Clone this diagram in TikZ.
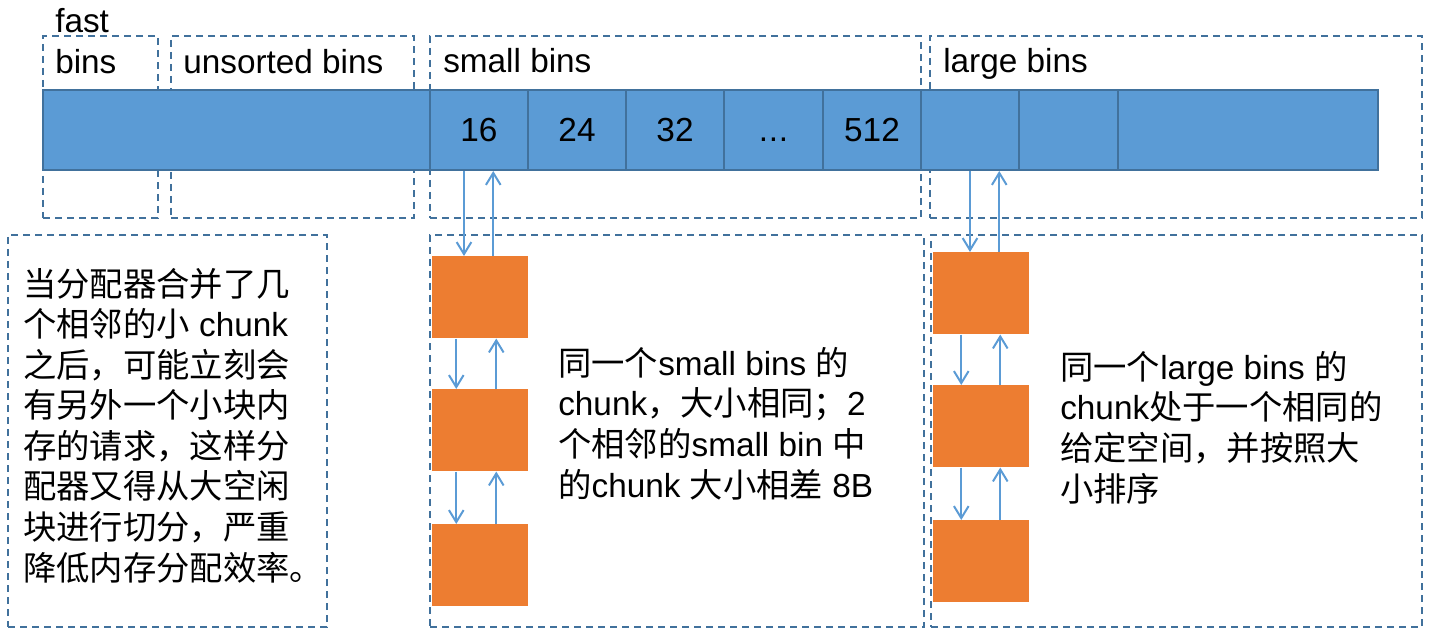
\documentclass[tikz,border=0pt]{standalone}
\usepackage{fontspec}
\setmainfont{Liberation Sans}
\newfontfamily\cjk{Noto Sans CJK SC}
\newcommand{\zh}[1]{{\cjk #1}}
\usetikzlibrary{arrows.meta}
\definecolor{barblue}{HTML}{5B9BD5}
\definecolor{barline}{HTML}{41719C}
\definecolor{arrblue}{HTML}{5B9BD5}
\definecolor{chunkorange}{HTML}{ED7D31}
\definecolor{dashcol}{HTML}{41719C}
\tikzset{
  dbox/.style={draw=dashcol, line width=1.5pt, dash pattern=on 5.5pt off 3.5pt, anchor=north west, inner sep=0pt, minimum height=136.5pt},
  gbox/.style={dbox, minimum height=294pt},
  cell/.style={draw=barline, fill=barblue, line width=1.5pt, anchor=west, inner sep=0pt, minimum height=60pt, text height=18pt, text depth=0pt, font=\fontsize{25}{30}\selectfont},
  chunkbox/.style={fill=chunkorange, anchor=north west, inner sep=0pt, minimum width=72pt, minimum height=61.5pt},
  lbl/.style={anchor=base west, inner sep=0pt, font=\fontsize{25}{30.4}\selectfont},
  para/.style={lbl, align=left},
  arr/.style={draw=arrblue, line width=1.5pt, -{Straight Barb[length=9pt,width=11pt,line width=1.5pt]}}
}
\begin{document}
\begin{tikzpicture}[x=0.75pt,y=-0.75pt]
\useasboundingbox (0,0) rectangle (1436,638);
% top dashed groups
\node[dbox, minimum width=86.25pt] (fastbox) at (42,35) {};
\node[dbox, minimum width=182.25pt] (unsbox) at (170,35) {};
\node[dbox, minimum width=368.25pt] (smallbox) at (429,35) {};
\node[dbox, minimum width=369pt] (largebox) at (929,35) {};
% bottom dashed groups
\node[gbox, minimum width=239.25pt] (textbox) at (7,234) {};
\node[gbox, minimum width=370.5pt] (smallgrp) at (429,234) {};
\node[gbox, minimum width=368.25pt] (largegrp) at (930,234) {};
% labels
\node[lbl] (tfast) at (55,33) {fast};
\node[lbl] (tbins) at (55,74) {bins};
\node[lbl] (tuns) at (183,74) {unsorted bins};
\node[lbl] (tsmall) at (443,73) {small bins};
\node[lbl] (tlarge) at (943,73) {large bins};
% bar
\node[cell, minimum width=290.25pt] (c0) at (42,130) {};
\node[cell, minimum width=73.5pt] (c16) at (429,130) {16};
\node[cell, minimum width=73.5pt] (c24) at (527,130) {24};
\node[cell, minimum width=73.5pt] (c32) at (625,130) {32};
\node[cell, minimum width=74.25pt] (cdots) at (723,130) {.\kern0.6pt.\kern0.6pt.};
\node[cell, minimum width=73.5pt] (c512) at (822,130) {512};
\node[cell, minimum width=73.5pt] (cl1) at (920,130) {};
\node[cell, minimum width=74.25pt] (cl2) at (1018,130) {};
\node[cell, minimum width=195pt] (cl3) at (1117,130) {};
% chunks
\node[chunkbox] (s1) at (432,256) {};
\node[chunkbox] (s2) at (432,389) {};
\node[chunkbox] (s3) at (432,524) {};
\node[chunkbox] (l1) at (933,252) {};
\node[chunkbox] (l2) at (933,385) {};
\node[chunkbox] (l3) at (933,520) {};
% arrows small
\draw[arr] (c16.south) ++(-15,0) coordinate (a1) -- (a1 |- s1.north);
\draw[arr] (s1.north) ++(13,0) coordinate (a2) -- (a2 |- c16.south);
\draw[arr] (s1.south) ++(-24,0) coordinate (a3) -- (a3 |- s2.north);
\draw[arr] (s2.north) ++(16,0) coordinate (a4) -- (a4 |- s1.south);
\draw[arr] (s2.south) ++(-24,0) coordinate (a5) -- (a5 |- s3.north);
\draw[arr] (s3.north) ++(16,0) coordinate (a6) -- (a6 |- s2.south);
% arrows large
\draw[arr] (cl1.south) coordinate (b1) -- (b1 |- l1.north);
\draw[arr] (l1.north) ++(18,0) coordinate (b2) -- (b2 |- cl1.south);
\draw[arr] (l1.south) ++(-20,0) coordinate (b3) -- (b3 |- l2.north);
\draw[arr] (l2.north) ++(19,0) coordinate (b4) -- (b4 |- l1.south);
\draw[arr] (l2.south) ++(-20,0) coordinate (b5) -- (b5 |- l3.north);
\draw[arr] (l3.north) ++(19,0) coordinate (b6) -- (b6 |- l2.south);
% paragraphs (base anchor = last line baseline)
\node[para] (ptext) at (23,580) {\zh{当分配器合并了几}\\\zh{个相邻的小} chunk\\\zh{之后，可能立刻会}\\\zh{有另外一个小块内}\\\zh{存的请求，这样分}\\\zh{配器又得从大空闲}\\\zh{块进行切分，严重}\\\zh{降低内存分配效率。}};
\node[para] (stext) at (558,497) {\zh{同一个}small bins \zh{的}\\chunk\zh{，大小相同；}2\\\zh{个相邻的}small bin \zh{中}\\\zh{的}chunk \zh{大小相差} 8B};
\node[para] (ltext) at (1060,501) {\zh{同一个}large bins \zh{的}\\chunk\zh{处于一个相同的}\\\zh{给定空间，并按照大}\\\zh{小排序}};
\end{tikzpicture}
\end{document}
